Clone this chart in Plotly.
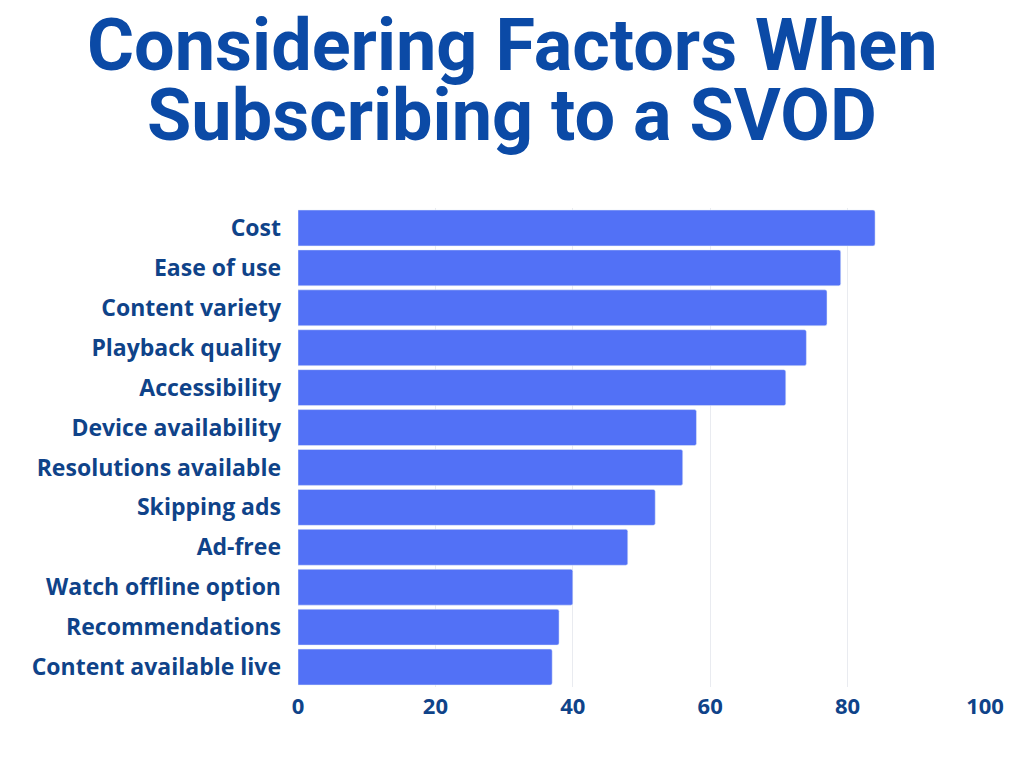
import plotly.graph_objects as go

factors = [
    "Cost",
    "Ease of use",
    "Content variety",
    "Playback quality",
    "Accessibility",
    "Device availability",
    "Resolutions available",
    "Skipping ads",
    "Ad-free",
    "Watch offline option",
    "Recommendations",
    "Content available live",
]
shares = [84, 79, 77, 74, 71, 58, 56, 52, 48, 40, 38, 37]
x_ticks = [0, 20, 40, 60, 80, 100]

title_lines = ["Considering Factors When", "Subscribing to a SVOD"]

label_col = "#0f4389"
title_col = "#0b4aa6"

W, H = 1024, 768
ml, mr, mt, mb = 298, 39, 208, 81
plot_w = W - ml - mr
plot_h = H - mt - mb

fig = go.Figure()
fig.add_trace(
    go.Bar(
        x=shares,
        y=factors,
        orientation="h",
        marker=dict(color="#5271f6", cornerradius=2),
        hoverinfo="x+y",
    )
)

# title as two separate annotations so the leading stays tight
for line, ypix in zip(title_lines, [45, 116]):
    fig.add_annotation(
        text=f"<b>{line}</b>",
        xref="paper", yref="paper",
        x=(W / 2 - ml) / plot_w, y=1 + (mt - ypix) / plot_h,
        xanchor="center", yanchor="middle",
        showarrow=False,
        font=dict(family="Roboto", size=72, color=title_col),
    )

fig.update_layout(
    width=W,
    height=H,
    margin=dict(l=ml, r=mr, t=mt, b=mb),
    paper_bgcolor="white",
    plot_bgcolor="white",
    bargap=0.1,
    showlegend=False,
    font=dict(family="Open Sans", color=label_col),
)
fig.update_xaxes(
    range=[0, 100],
    tickvals=x_ticks,
    showgrid=True,
    gridcolor="#e9ebf0",
    gridwidth=1,
    zeroline=False,
    showline=False,
    ticks="",
    ticklabelstandoff=4,
    tickfont=dict(family="Open Sans", size=22, color=label_col, weight="bold"),
)
fig.update_yaxes(
    autorange="reversed",
    showgrid=False,
    showline=False,
    ticks="",
    ticklabelstandoff=16,
    tickfont=dict(family="Open Sans", size=23, color=label_col, weight="bold"),
)

fig.write_html(
    "out.html",
    config={"displayModeBar": False},
    post_script="document.body.style.margin='0px';",
)
